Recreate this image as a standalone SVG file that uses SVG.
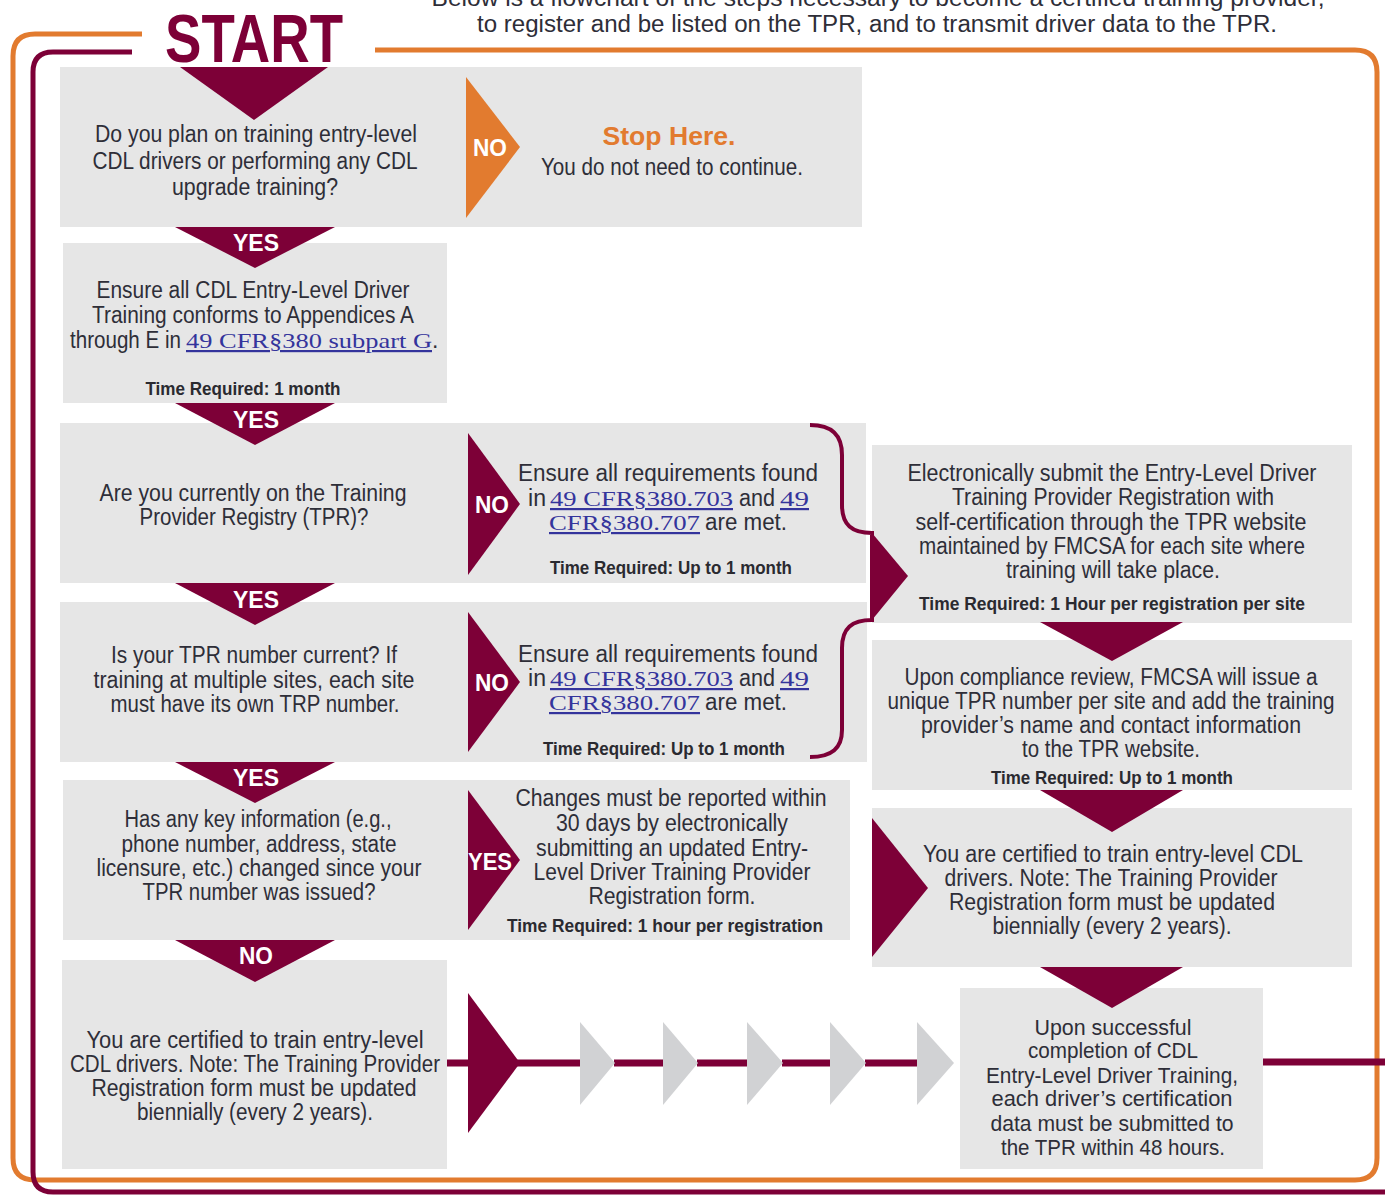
<svg xmlns="http://www.w3.org/2000/svg" width="1385" height="1195" viewBox="0 0 1385 1195">
<style>
.box{fill:#e6e6e6}
.mar{fill:#7d0037}
.gry{fill:#d1d2d4}
.org{fill:#e27b2f}
.t{font-family:"Liberation Sans",Arial,sans-serif;font-size:23px;fill:#2e2e38;text-anchor:middle}
.t2{font-family:"Liberation Sans",Arial,sans-serif;font-size:22px;fill:#2e2e38;text-anchor:middle}
.ts{font-family:"Liberation Sans",Arial,sans-serif;font-size:23px;fill:#2e2e38}
.tb{font-family:"Liberation Sans",Arial,sans-serif;font-size:18px;font-weight:bold;fill:#2a2a30;text-anchor:middle}
.lnk{font-family:"Liberation Serif","Times New Roman",serif;font-size:22px;fill:#34349c;text-decoration:underline}
.w{font-family:"Liberation Sans",Arial,sans-serif;font-size:24px;font-weight:bold;fill:#fff;text-anchor:middle}
.hd{font-family:"Liberation Sans",Arial,sans-serif;font-size:23px;fill:#2e2e38;text-anchor:middle}
.frame{fill:none;stroke-width:5;stroke-linecap:butt}
.ln{fill:none;stroke:#7d0037;stroke-width:7}
</style>

<!-- header -->
<g id="header">
<text class="hd" x="878" y="6" textLength="893" lengthAdjust="spacingAndGlyphs">Below is a flowchart of the steps necessary to become a certified training provider,</text>
<text class="hd" x="877" y="32" textLength="800" lengthAdjust="spacingAndGlyphs">to register and be listed on the TPR, and to transmit driver data to the TPR.</text>
<text x="254" y="62" font-family="Liberation Sans, Arial, sans-serif" font-size="68" font-weight="bold" fill="#7d0037" text-anchor="middle" textLength="178" lengthAdjust="spacingAndGlyphs">START</text>
</g>

<!-- row 1 -->
<g id="q1">
<rect class="box" x="60" y="67" width="802" height="160"/>
<polygon class="mar" points="180,67 328,67 254,120"/>
<text class="t" x="256" y="142" textLength="322" lengthAdjust="spacingAndGlyphs">Do you plan on training entry-level</text>
<text class="t" x="255" y="169" textLength="325" lengthAdjust="spacingAndGlyphs">CDL drivers or performing any CDL</text>
<text class="t" x="255" y="195" textLength="166" lengthAdjust="spacingAndGlyphs">upgrade training?</text>
</g>
<g id="stop">
<polygon class="org" points="466,77 466,218 520,147"/>
<text class="w" x="490" y="156" textLength="34" lengthAdjust="spacingAndGlyphs">NO</text>
<text x="669" y="145" font-family="Liberation Sans, Arial, sans-serif" font-size="26" font-weight="bold" fill="#e27b2f" text-anchor="middle" textLength="133" lengthAdjust="spacingAndGlyphs">Stop Here.</text>
<text class="t" x="672" y="175" textLength="262" lengthAdjust="spacingAndGlyphs">You do not need to continue.</text>
</g>

<!-- row 2 -->
<g id="ensure-cdl">
<rect class="box" x="63" y="243" width="384" height="160"/>
<polygon class="mar" points="175,227 335,227 255,268"/>
<text class="w" x="256" y="251" textLength="46" lengthAdjust="spacingAndGlyphs">YES</text>
<text class="t" x="253" y="298" textLength="313" lengthAdjust="spacingAndGlyphs">Ensure all CDL Entry-Level Driver</text>
<text class="t" x="253" y="323" textLength="322" lengthAdjust="spacingAndGlyphs">Training conforms to Appendices A</text>
<text class="ts" x="70" y="348" textLength="111" lengthAdjust="spacingAndGlyphs">through E in</text>
<text class="lnk" x="186" y="348" textLength="246" lengthAdjust="spacingAndGlyphs">49 CFR§380 subpart G</text>
<text class="ts" x="432" y="348">.</text>
<text class="tb" x="243" y="395" textLength="195" lengthAdjust="spacingAndGlyphs">Time Required: 1 month</text>
</g>

<!-- row 3 -->
<g id="q-tpr">
<rect class="box" x="60" y="423" width="806" height="160"/>
<polygon class="mar" points="175,403 335,403 255,445"/>
<text class="w" x="256" y="428" textLength="46" lengthAdjust="spacingAndGlyphs">YES</text>
<text class="t" x="253" y="501" textLength="307" lengthAdjust="spacingAndGlyphs">Are you currently on the Training</text>
<text class="t" x="254" y="525" textLength="229" lengthAdjust="spacingAndGlyphs">Provider Registry (TPR)?</text>
</g>
<g id="req1">
<polygon class="mar" points="468,433 468,575 520,504"/>
<text class="w" x="492" y="513" textLength="34" lengthAdjust="spacingAndGlyphs">NO</text>
<text class="t" x="668" y="481" textLength="300" lengthAdjust="spacingAndGlyphs">Ensure all requirements found</text>
<text class="ts" x="528" y="506" textLength="18" lengthAdjust="spacingAndGlyphs">in</text>
<text class="lnk" x="550" y="506" textLength="183" lengthAdjust="spacingAndGlyphs">49 CFR§380.703</text>
<text class="ts" x="739" y="506" textLength="36" lengthAdjust="spacingAndGlyphs">and</text>
<text class="lnk" x="780" y="506" textLength="29" lengthAdjust="spacingAndGlyphs">49</text>
<text class="lnk" x="549" y="530" textLength="151" lengthAdjust="spacingAndGlyphs">CFR§380.707</text>
<text class="ts" x="705" y="530" textLength="82" lengthAdjust="spacingAndGlyphs">are met.</text>
<text class="tb" x="671" y="574" textLength="242" lengthAdjust="spacingAndGlyphs">Time Required: Up to 1 month</text>
</g>

<!-- row 4 -->
<g id="q-current">
<rect class="box" x="60" y="602" width="807" height="160"/>
<polygon class="mar" points="175,583 335,583 255,625"/>
<text class="w" x="256" y="608" textLength="46" lengthAdjust="spacingAndGlyphs">YES</text>
<text class="t" x="254" y="663" textLength="286" lengthAdjust="spacingAndGlyphs">Is your TPR number current? If</text>
<text class="t" x="254" y="688" textLength="321" lengthAdjust="spacingAndGlyphs">training at multiple sites, each site</text>
<text class="t" x="255" y="712" textLength="289" lengthAdjust="spacingAndGlyphs">must have its own TRP number.</text>
</g>
<g id="req2">
<polygon class="mar" points="468,612 468,752 520,682"/>
<text class="w" x="492" y="691" textLength="34" lengthAdjust="spacingAndGlyphs">NO</text>
<text class="t" x="668" y="662" textLength="300" lengthAdjust="spacingAndGlyphs">Ensure all requirements found</text>
<text class="ts" x="528" y="686" textLength="18" lengthAdjust="spacingAndGlyphs">in</text>
<text class="lnk" x="550" y="686" textLength="183" lengthAdjust="spacingAndGlyphs">49 CFR§380.703</text>
<text class="ts" x="739" y="686" textLength="36" lengthAdjust="spacingAndGlyphs">and</text>
<text class="lnk" x="780" y="686" textLength="29" lengthAdjust="spacingAndGlyphs">49</text>
<text class="lnk" x="549" y="710" textLength="151" lengthAdjust="spacingAndGlyphs">CFR§380.707</text>
<text class="ts" x="705" y="710" textLength="82" lengthAdjust="spacingAndGlyphs">are met.</text>
<text class="tb" x="664" y="755" textLength="242" lengthAdjust="spacingAndGlyphs">Time Required: Up to 1 month</text>
</g>

<!-- row 5 -->
<g id="q-changed">
<rect class="box" x="63" y="780" width="787" height="160"/>
<polygon class="mar" points="175,762 335,762 255,803"/>
<text class="w" x="256" y="786" textLength="46" lengthAdjust="spacingAndGlyphs">YES</text>
<text class="t" x="258" y="827" textLength="267" lengthAdjust="spacingAndGlyphs">Has any key information (e.g.,</text>
<text class="t" x="259" y="852" textLength="275" lengthAdjust="spacingAndGlyphs">phone number, address, state</text>
<text class="t" x="259" y="876" textLength="325" lengthAdjust="spacingAndGlyphs">licensure, etc.) changed since your</text>
<text class="t" x="259" y="900" textLength="233" lengthAdjust="spacingAndGlyphs">TPR number was issued?</text>
</g>
<g id="changes">
<polygon class="mar" points="468,790 468,930 520,860"/>
<text class="w" x="490" y="870" textLength="44" lengthAdjust="spacingAndGlyphs">YES</text>
<text class="t" x="671" y="806" textLength="311" lengthAdjust="spacingAndGlyphs">Changes must be reported within</text>
<text class="t" x="672" y="831" textLength="232" lengthAdjust="spacingAndGlyphs">30 days by electronically</text>
<text class="t" x="672" y="856" textLength="272" lengthAdjust="spacingAndGlyphs">submitting an updated Entry-</text>
<text class="t" x="672" y="880" textLength="277" lengthAdjust="spacingAndGlyphs">Level Driver Training Provider</text>
<text class="t" x="672" y="904" textLength="167" lengthAdjust="spacingAndGlyphs">Registration form.</text>
<text class="tb" x="665" y="932" textLength="316" lengthAdjust="spacingAndGlyphs">Time Required: 1 hour per registration</text>
</g>

<!-- row 6 -->
<g id="certified-left">
<rect class="box" x="62" y="960" width="385" height="209"/>
<polygon class="mar" points="175,940 335,940 255,982"/>
<text class="w" x="256" y="964" textLength="34" lengthAdjust="spacingAndGlyphs">NO</text>
<text class="t" x="255" y="1048" textLength="337" lengthAdjust="spacingAndGlyphs">You are certified to train entry-level</text>
<text class="t" x="255" y="1072" textLength="370" lengthAdjust="spacingAndGlyphs">CDL drivers. Note: The Training Provider</text>
<text class="t" x="254" y="1096" textLength="325" lengthAdjust="spacingAndGlyphs">Registration form must be updated</text>
<text class="t" x="255" y="1120" textLength="236" lengthAdjust="spacingAndGlyphs">biennially (every 2 years).</text>
</g>

<!-- right column -->
<g id="submit">
<rect class="box" x="872" y="445" width="480" height="178"/>
<text class="t" x="1112" y="481" textLength="409" lengthAdjust="spacingAndGlyphs">Electronically submit the Entry-Level Driver</text>
<text class="t" x="1113" y="505" textLength="322" lengthAdjust="spacingAndGlyphs">Training Provider Registration with</text>
<text class="t" x="1111" y="530" textLength="391" lengthAdjust="spacingAndGlyphs">self-certification through the TPR website</text>
<text class="t" x="1112" y="554" textLength="386" lengthAdjust="spacingAndGlyphs">maintained by FMCSA for each site where</text>
<text class="t" x="1113" y="578" textLength="214" lengthAdjust="spacingAndGlyphs">training will take place.</text>
<text class="tb" x="1112" y="610" textLength="386" lengthAdjust="spacingAndGlyphs">Time Required: 1 Hour per registration per site</text>
</g>
<g id="review">
<rect class="box" x="872" y="640" width="480" height="150"/>
<polygon class="mar" points="1040,622 1183,622 1112,661"/>
<text class="t" x="1111" y="685" textLength="413" lengthAdjust="spacingAndGlyphs">Upon compliance review, FMCSA will issue a</text>
<text class="t" x="1111" y="709" textLength="447" lengthAdjust="spacingAndGlyphs">unique TPR number per site and add the training</text>
<text class="t" x="1111" y="733" textLength="380" lengthAdjust="spacingAndGlyphs">provider’s name and contact information</text>
<text class="t" x="1111" y="757" textLength="178" lengthAdjust="spacingAndGlyphs">to the TPR website.</text>
<text class="tb" x="1112" y="784" textLength="242" lengthAdjust="spacingAndGlyphs">Time Required:  Up to 1 month</text>
</g>
<g id="certified-right">
<rect class="box" x="872" y="808" width="480" height="159"/>
<polygon class="mar" points="1040,790 1183,790 1112,832"/>
<polygon class="mar" points="872,818 872,957 928,888"/>
<text class="t" x="1113" y="862" textLength="380" lengthAdjust="spacingAndGlyphs">You are certified to train entry-level CDL</text>
<text class="t" x="1111" y="886" textLength="333" lengthAdjust="spacingAndGlyphs">drivers. Note: The Training Provider</text>
<text class="t" x="1112" y="910" textLength="326" lengthAdjust="spacingAndGlyphs">Registration form must be updated</text>
<text class="t" x="1112" y="934" textLength="239" lengthAdjust="spacingAndGlyphs">biennially (every 2 years).</text>
</g>
<g id="submit-data">
<rect class="box" x="960" y="988" width="303" height="181"/>
<polygon class="mar" points="1040,967 1183,967 1112,1008"/>
<text class="t2" x="1113" y="1035" textLength="157" lengthAdjust="spacingAndGlyphs">Upon successful</text>
<text class="t2" x="1113" y="1058" textLength="170" lengthAdjust="spacingAndGlyphs">completion of CDL</text>
<text class="t2" x="1112" y="1083" textLength="252" lengthAdjust="spacingAndGlyphs">Entry-Level Driver Training,</text>
<text class="t2" x="1112" y="1106" textLength="241" lengthAdjust="spacingAndGlyphs">each driver’s certification</text>
<text class="t2" x="1112" y="1131" textLength="243" lengthAdjust="spacingAndGlyphs">data must be submitted to</text>
<text class="t2" x="1113" y="1155" textLength="224" lengthAdjust="spacingAndGlyphs">the TPR within 48 hours.</text>
</g>

<!-- frames / connectors -->
<g id="connectors">
<path class="frame" stroke="#e27b2f" d="M142,34 L35,34 Q13,34 13,56 L13,1158 Q13,1180 35,1180 L1355,1180 Q1377,1180 1377,1158 L1377,72 Q1377,50 1355,50 L375,50"/>
<path class="frame" stroke="#7d0037" d="M132,52 L53,52 Q33,52 33,72 L33,1172 Q33,1192 53,1192 L1385,1192"/>
<path class="ln" d="M447,1063 L581,1063 M614,1063 L664,1063 M697,1063 L748,1063 M782,1063 L831,1063 M865,1063 L918,1063"/>
<path class="ln" d="M1263,1062 L1385,1062"/>
<path fill="none" stroke="#7d0037" stroke-width="4" d="M810,425 C832,425 842,435 842,455 L842,505 C842,525 852,533 872,533 L872,620 C852,620 842,628 842,648 L842,730 C842,748 832,757 810,757"/>
<polygon class="mar" points="872,533 872,620 908,576"/>
</g>

<!-- bottom chain arrows -->
<g id="chain">
<polygon class="mar" points="468,993 468,1133 520,1063"/>
<polygon class="gry" points="580,1022 580,1105 615,1063"/>
<polygon class="gry" points="663,1022 663,1105 698,1063"/>
<polygon class="gry" points="747,1022 747,1105 783,1063"/>
<polygon class="gry" points="830,1022 830,1105 866,1063"/>
<polygon class="gry" points="917,1022 917,1105 954,1063"/>
</g>
</svg>
